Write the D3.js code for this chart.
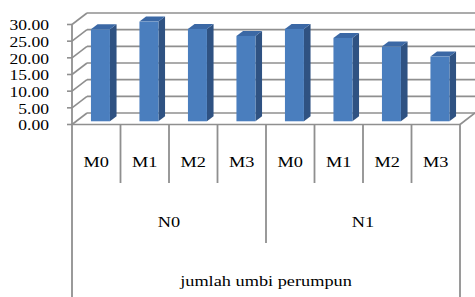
<!DOCTYPE html>
<html><head><meta charset="utf-8">
<script src="https://cdn.jsdelivr.net/npm/d3@7"></script>
<style>
html,body{margin:0;padding:0;background:#fff;}
svg{display:block;}
text{font-family:"Liberation Serif","Times New Roman",serif;fill:#000;}
</style></head>
<body>
<svg id="c" width="475" height="297"></svg>
<script>
const groups = ["N0", "N1"];
const subCats = ["M0", "M1", "M2", "M3"];
const values = [27.6, 29.9, 27.7, 25.6, 27.7, 25.0, 22.4, 19.4];
const yTicks = [0, 5, 10, 15, 20, 25, 30];
const axisTitle = "jumlah umbi perumpun";

const svg = d3.select("#c");
const W = 475, H = 297;
const x0 = 72, x1 = 460;
const DX = 15, DY = -11.5;           // depth offset front -> back
const gridColor = "#8f8f8f";
const cats = [];
groups.forEach(g => subCats.forEach(m => cats.push({g, m})));
cats.forEach((c, i) => c.v = values[i]);

const x = d3.scaleBand().domain(d3.range(cats.length)).range([x0, x1]).paddingInner(0).paddingOuter(0);
const y = d3.scaleLinear().domain([0, 30]).range([124.5, 24.5]);

// back wall gridlines
const g = svg.append("g");
yTicks.forEach(t => {
  g.append("line").attr("x1", x0 + DX).attr("x2", W + 2)
    .attr("y1", y(t) + DY).attr("y2", y(t) + DY)
    .attr("stroke", gridColor).attr("stroke-width", 1.6);
  // left side wall diagonal
  g.append("line").attr("x1", x0).attr("y1", y(t))
    .attr("x2", x0 + DX).attr("y2", y(t) + DY)
    .attr("stroke", gridColor).attr("stroke-width", 1.6);
  // tick mark
  g.append("line").attr("x1", x0 - 5).attr("x2", x0)
    .attr("y1", y(t)).attr("y2", y(t))
    .attr("stroke", gridColor).attr("stroke-width", 1.6);
});
// floor
g.append("line").attr("x1", x0).attr("x2", x1).attr("y1", y(0)).attr("y2", y(0))
  .attr("stroke", gridColor).attr("stroke-width", 1.6);
g.append("line").attr("x1", x1).attr("y1", y(0)).attr("x2", x1 + DX).attr("y2", y(0) + DY)
  .attr("stroke", gridColor).attr("stroke-width", 1.6);
// vertical axis
g.append("line").attr("x1", x0).attr("x2", x0).attr("y1", y(30)).attr("y2", H)
  .attr("stroke", gridColor).attr("stroke-width", 1.8);

// y labels
yTicks.forEach(t => {
  svg.append("text")
    .attr("transform", `translate(49,${y(t) + 5.8}) scale(1.17,1)`)
    .attr("text-anchor", "end").attr("font-size", 15)
    .text(t.toFixed(2));
});

// bars
const d0 = 0.28, d1 = 0.72, faceW = 19;
const bars = svg.append("g");
cats.forEach((c, i) => {
  const cx = x(i) + x.bandwidth() / 2 + d0 * DX;
  const fx = cx - faceW / 2, fx2 = cx + faceW / 2;
  const yb = y(0) + d0 * DY, yt = y(c.v) + d0 * DY;
  const sdx = (d1 - d0) * DX, sdy = (d1 - d0) * DY;
  // side
  bars.append("path").attr("d", `M${fx2},${yb}L${fx2 + sdx},${yb + sdy}L${fx2 + sdx},${yt + sdy}L${fx2},${yt}Z`)
    .attr("fill", "#2f5282");
  // top
  bars.append("path").attr("d", `M${fx},${yt}L${fx2},${yt}L${fx2 + sdx},${yt + sdy}L${fx + sdx},${yt + sdy}Z`)
    .attr("fill", "#3b68a5");
  // front
  bars.append("rect").attr("x", fx).attr("y", yt).attr("width", faceW).attr("height", yb - yt)
    .attr("fill", "#4a7ebe");
});

// category dividers
const lab = svg.append("g");
for (let i = 1; i < cats.length; i++) {
  const xx = x(i);
  const bottom = (i % subCats.length === 0) ? 243 : 183;
  lab.append("line").attr("x1", xx).attr("x2", xx).attr("y1", y(0)).attr("y2", bottom)
    .attr("stroke", gridColor).attr("stroke-width", 1.8);
}
lab.append("line").attr("x1", x1).attr("x2", x1).attr("y1", y(0)).attr("y2", H)
  .attr("stroke", gridColor).attr("stroke-width", 1.8);

cats.forEach((c, i) => {
  lab.append("text")
    .attr("transform", `translate(${x(i) + x.bandwidth() / 2},167) scale(1.22,1)`)
    .attr("text-anchor", "middle").attr("font-size", 15).text(c.m);
});
groups.forEach((gName, gi) => {
  const a = x(gi * subCats.length), b = x(gi * subCats.length + subCats.length - 1) + x.bandwidth();
  lab.append("text")
    .attr("transform", `translate(${(a + b) / 2},227) scale(1.22,1)`)
    .attr("text-anchor", "middle").attr("font-size", 15).text(gName);
});
lab.append("text")
  .attr("transform", `translate(${(x0 + x1) / 2},286) scale(1.22,1)`)
  .attr("text-anchor", "middle").attr("font-size", 15).text(axisTitle);
</script>
</body></html>
